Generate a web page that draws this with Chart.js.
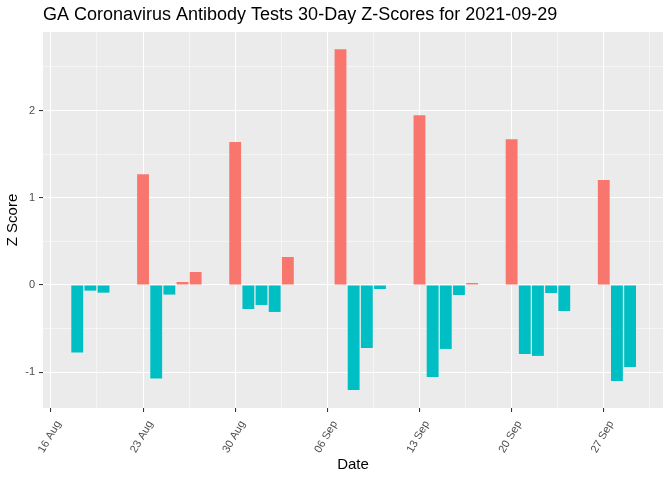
<!DOCTYPE html>
<html lang="en">
<head>
  <meta charset="UTF-8">
  <title>GA Coronavirus Antibody Tests 30-Day Z-Scores</title>
  <script src="https://cdn.jsdelivr.net/npm/chart.js"></script>
  <style>
    html, body { margin: 0; padding: 0; background: #fff; }
    #wrap { width: 672px; height: 480px; }
  </style>
</head>
<body>
  <div id="wrap"><canvas id="zChart"></canvas></div>

  <script>
    // Daily z-scores, one bar per reporting day
    const dates = [
      '2021-08-18', '2021-08-19', '2021-08-20',
      '2021-08-23', '2021-08-24', '2021-08-25', '2021-08-26', '2021-08-27',
      '2021-08-30', '2021-08-31', '2021-09-01', '2021-09-02', '2021-09-03',
      '2021-09-07', '2021-09-08', '2021-09-09', '2021-09-10',
      '2021-09-13', '2021-09-14', '2021-09-15', '2021-09-16', '2021-09-17',
      '2021-09-20', '2021-09-21', '2021-09-22', '2021-09-23', '2021-09-24',
      '2021-09-27', '2021-09-28', '2021-09-29'
    ];
    const zScores = [
      -0.775, -0.065, -0.088,
      1.27, -1.073, -0.11, 0.034, 0.149,
      1.638, -0.275, -0.229, -0.309, 0.321,
      2.703, -1.203, -0.722, -0.046,
      1.947, -1.054, -0.733, -0.115, 0.023,
      1.672, -0.790, -0.813, -0.092, -0.298,
      1.203, -1.100, -0.939
    ];
    const tickLabels = ['16 Aug', '23 Aug', '30 Aug', '06 Sep', '13 Sep', '20 Sep', '27 Sep'];
    const firstTick = '2021-08-16';

    const DAY = 86400000;
    const dayOf = d => (Date.parse(d) - Date.parse(firstTick)) / DAY;
    const points = dates.map((d, i) => ({ x: dayOf(d), y: zScores[i] }));

    const font = '"Liberation Sans", Arial, sans-serif';

    // grey ggplot-style panel behind the grid
    const panelBg = {
      id: 'panelBg',
      beforeDraw(chart) {
        const { ctx, chartArea: a } = chart;
        ctx.save();
        ctx.fillStyle = '#EBEBEB';
        ctx.fillRect(a.left, a.top, a.right - a.left, a.bottom - a.top);
        ctx.restore();
      }
    };

    const isMajorX = v => Math.abs(v % 7) < 1e-9;
    const tickVal = c => (c.tick ? c.tick.value : NaN);

    new Chart(document.getElementById('zChart'), {
      type: 'bar',
      data: {
        datasets: [{
          data: points,
          backgroundColor: c => (c.raw && c.raw.y > 0) ? '#F8766D' : '#00BFC4',
          barPercentage: 0.9,
          categoryPercentage: 1.0,
          borderWidth: 0
        }]
      },
      options: {
        responsive: true,
        maintainAspectRatio: false,
        animation: false,
        layout: { padding: { left: 0, right: 9, top: 0, bottom: 0 } },
        plugins: {
          legend: { display: false },
          tooltip: { enabled: false },
          title: {
            display: true,
            text: 'GA Coronavirus Antibody Tests 30-Day Z-Scores for 2021-09-29',
            align: 'start',
            fullSize: false,
            color: '#000',
            font: { family: font, size: 18, weight: 'normal' },
            padding: { top: 4, bottom: 6.4 }
          }
        },
        scales: {
          x: {
            type: 'linear',
            offset: false,
            min: -0.6,
            max: 46.5,
            afterFit: s => { s.height = 72; },
            border: { display: false },
            grid: {
              offset: false,
              color: '#FFFFFF',
              lineWidth: c => isMajorX(tickVal(c)) ? 1.07 : 0.53,
              tickLength: 4,
              tickColor: c => isMajorX(tickVal(c)) ? '#333333' : 'rgba(0,0,0,0)'
            },
            ticks: {
              stepSize: 3.5,
              includeBounds: false,
              autoSkip: false,
              minRotation: 60,
              maxRotation: 60,
              padding: 6.5,
              labelOffset: 7.5,
              color: '#4D4D4D',
              font: { family: font, size: 11 },
              callback: v => isMajorX(v) ? tickLabels[Math.round(v / 7)] : ''
            },
            title: {
              display: true,
              text: 'Date',
              color: '#000',
              font: { family: font, size: 15 },
              padding: { top: 0, bottom: 6 }
            }
          },
          y: {
            min: -1.41,
            max: 2.9,
            afterFit: s => { s.width = 43; },
            border: { display: false },
            grid: {
              color: '#FFFFFF',
              lineWidth: c => Number.isInteger(tickVal(c)) ? 1.07 : 0.53,
              tickLength: 4,
              tickColor: c => Number.isInteger(tickVal(c)) ? '#333333' : 'rgba(0,0,0,0)'
            },
            ticks: {
              stepSize: 0.5,
              includeBounds: false,
              autoSkip: false,
              padding: 4,
              color: '#4D4D4D',
              font: { family: font, size: 11 },
              callback: v => Number.isInteger(v) ? String(v) : ''
            },
            title: {
              display: true,
              text: 'Z Score',
              color: '#000',
              font: { family: font, size: 15 },
              padding: { top: 4, bottom: 0 }
            }
          }
        }
      },
      plugins: [panelBg]
    });
  </script>
</body>
</html>
